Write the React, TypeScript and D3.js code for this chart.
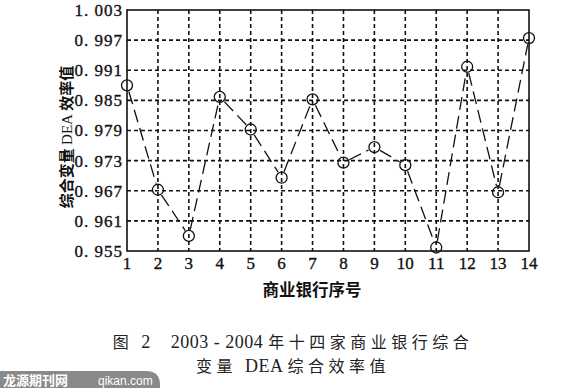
import React, { useEffect } from 'react'
import * as d3 from 'd3'

// bank index on x, composite DEA efficiency on y
const banks = [1, 2, 3, 4, 5, 6, 7, 8, 9, 10, 11, 12, 13, 14]
const deaValues = [0.988, 0.9672, 0.958, 0.9857, 0.9792, 0.9696, 0.9852, 0.9726, 0.9757, 0.9721, 0.9557, 0.9917, 0.9667, 0.9974]
const yTicks = [0.955, 0.961, 0.967, 0.973, 0.979, 0.985, 0.991, 0.997, 1.003]

const xTitle = '商业银行序号'

const serif = "'Liberation Serif', 'DejaVu Serif', serif"
const cjk = "'Noto Sans CJK SC', 'Noto Sans', sans-serif"

export default function App() {
    useEffect(() => {
        document.body.style.margin = '0'
    }, [])

    const width = 570
    const height = 388
    const margin = { top: 10, right: 41, bottom: 137, left: 127 }

    const x = d3.scaleLinear()
        .domain([1, 14])
        .range([margin.left, width - margin.right])

    const y = d3.scaleLinear()
        .domain([0.955, 1.003])
        .range([height - margin.bottom, margin.top])

    const pts = banks.map((b, i) => ({ x: x(b), y: y(deaValues[i]) }))
    const r = 5.5

    // segments between markers, trimmed at the circle edge
    const segs = pts.slice(1).map((p, i) => {
        const a = pts[i]
        const dx = p.x - a.x
        const dy = p.y - a.y
        const len = Math.sqrt(dx * dx + dy * dy)
        const ux = dx / len
        const uy = dy / len
        return [[a.x + ux * (r + 1), a.y + uy * (r + 1)], [p.x - ux * (r + 1), p.y - uy * (r + 1)]]
    })
    const line = d3.line()

    const x0 = margin.left
    const x1 = width - margin.right
    const y0 = height - margin.bottom
    const y1 = margin.top

    return (
        <svg width={width} height={height} style={{ display: 'block', background: '#fff' }}>
            {/* grid */}
            {yTicks.slice(1, -1).map(t => (
                <line key={'gy' + t} x1={x0} x2={x1} y1={y(t)} y2={y(t)}
                    stroke="#111" strokeWidth={1.6} strokeDasharray="4,3" />
            ))}
            {banks.slice(1, -1).map(b => (
                <line key={'gx' + b} x1={x(b)} x2={x(b)} y1={y1} y2={y0}
                    stroke="#111" strokeWidth={1.6} strokeDasharray="4,3" />
            ))}
            <rect x={x0} y={y1} width={x1 - x0} height={y0 - y1} fill="none" stroke="#111" strokeWidth={1.6} />

            {/* y tick labels */}
            {yTicks.map(t => (
                <text key={'ty' + t} x={x0 - 4} y={y(t)} dy="0.35em" textAnchor="end"
                    style={{ fontFamily: serif, fontSize: 17, letterSpacing: 1 }} fill="#111" stroke="#111" strokeWidth={0.35}>
                    {t.toFixed(3).replace('.', '. ')}
                </text>
            ))}

            {/* x tick labels */}
            {banks.map(b => (
                <text key={'tx' + b} x={x(b)} y={y0 + 18} textAnchor="middle"
                    style={{ fontFamily: serif, fontSize: 17 }} fill="#111" stroke="#111" strokeWidth={0.35}>
                    {b}
                </text>
            ))}

            {/* series */}
            {segs.map((s, i) => (
                <path key={'s' + i} d={line(s as [number, number][]) || ''} fill="none"
                    stroke="#111" strokeWidth={1.3} strokeDasharray="13,6" />
            ))}
            {pts.map((p, i) => (
                <circle key={'c' + i} cx={p.x} cy={p.y} r={r} fill="none" stroke="#111" strokeWidth={1.3} />
            ))}

            {/* axis titles */}
            <text transform={`translate(67,137) rotate(-90)`} textAnchor="middle" dy="0.35em"
                style={{ fontFamily: cjk, fontWeight: 700, fontSize: 15 }} fill="#111">
                综合变量 <tspan style={{ fontFamily: serif, fontWeight: 400 }}>DEA</tspan> 效率值
            </text>
            <text x={312} y={296} textAnchor="middle" style={{ fontFamily: cjk, fontWeight: 700, fontSize: 16.5 }} fill="#111">
                {xTitle}
            </text>

            {/* caption */}
            <text x={293} y={348} textAnchor="middle" style={{ fontFamily: cjk, fontSize: 16, letterSpacing: 4.5 }} fill="#222" xmlSpace="preserve">
                图 <tspan style={{ fontFamily: serif, fontSize: 18, letterSpacing: 0.5 }}>2    2003 - 2004 </tspan>年十四家商业银行综合
            </text>
            <text x={293} y={372} textAnchor="middle" style={{ fontFamily: cjk, fontSize: 16, letterSpacing: 4.5 }} fill="#222" xmlSpace="preserve">
                变量 <tspan style={{ fontFamily: serif, fontSize: 18, letterSpacing: 0.5 }}>DEA </tspan>综合效率值
            </text>

            {/* watermark */}
            <path d="M0,371 H146 Q160,371 160,385 V388 H0 Z" fill="#8a8a8a" />
            <text x={3} y={385} style={{ fontFamily: cjk, fontWeight: 700, fontSize: 13 }} fill="#fff">龙源期刊网</text>
            <text x={98} y={385} style={{ fontFamily: "'Liberation Sans', sans-serif", fontSize: 12 }} fill="#fff">qikan.com</text>
        </svg>
    )
}
